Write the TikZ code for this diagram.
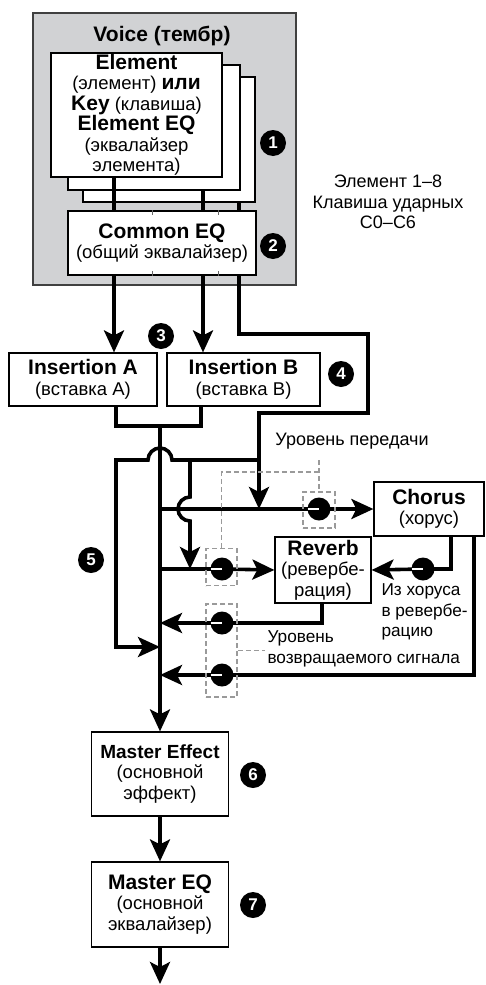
\documentclass[tikz,border=0pt]{standalone}
\usepackage{fontspec}
\setmainfont{Liberation Sans}
\usetikzlibrary{positioning,arrows.meta,calc}
\definecolor{voicegray}{HTML}{D1D2D4}
\definecolor{dashgray}{HTML}{9A9A9A}
\newcommand{\hd}[1]{{\fontsize{21}{20}\selectfont\bfseries #1}}
\tikzset{
  fxbox/.style = {draw, fill=white, line width=1.2pt, align=center,
    inner sep=0pt, font=\fontsize{18.5}{20.5}\selectfont},
  wire/.style = {line width=3.6pt},
  arr/.style = {-{Stealth[length=22pt,width=20pt,inset=5pt]}},
  lvl/.style = {draw=dashgray, line width=1.8pt, dash pattern=on 5pt off 3pt},
  lvlbox/.style = {lvl, inner sep=0pt},
  knob/.style = {circle, fill=black, minimum size=23pt, inner sep=0pt,
    path picture={\draw[white, line width=2pt] (path picture bounding box.west)
      -- (path picture bounding box.center);}},
  num/.style = {circle, fill=black, text=white, minimum size=26pt,
    inner sep=0pt, font=\fontsize{17}{17}\selectfont\bfseries},
  note/.style = {align=center, font=\fontsize{18}{20.5}\selectfont},
  sidenote/.style = {align=left, anchor=west, font=\fontsize{17.2}{20.5}\selectfont}
}

\begin{document}
\begin{tikzpicture}[x=1pt,y=-1pt]
\useasboundingbox (0,0) rectangle (486,985);

% voice block
\draw[line width=1.4pt, draw=black!75, fill=voicegray] (33,13) rectangle (296,285);
\node[font=\fontsize{21}{22}\selectfont\bfseries] (voice) at (162,36) {Voice (тембр)};
\node[fxbox, minimum width=172pt, minimum height=125pt] (elC) at (169,139.5) {};
\node[fxbox, minimum width=172pt, minimum height=125pt] (elB) at (154,127.5) {};
\node[fxbox, minimum width=171pt, minimum height=124pt] (elA) at (136.5,115)
  {\hd{Element}\\(элемент) \hd{или}\\\hd{Key} (клавиша)\\\hd{Element EQ}\\(эквалайзер\\элемента)};
\node[fxbox, minimum width=188pt, minimum height=64pt] (cEQ) at (162,243)
  {\hd{Common EQ}\\(общий эквалайзер)};
\node[note] (range) at (388,202) {Элемент 1–8\\Клавиша ударных\\C0–C6};

% insertions, system effects, master
\node[fxbox, minimum width=148pt, minimum height=53pt] (insA) at (83,379.5)
  {\hd{Insertion A}\\(вставка A)};
\node[fxbox, minimum width=153pt, minimum height=53pt] (insB) at (243.5,379.5)
  {\hd{Insertion B}\\(вставка B)};
\node[fxbox, minimum width=110pt, minimum height=54pt] (chorus) at (429,509)
  {\hd{Chorus}\\(хорус)};
\node[fxbox, minimum width=96pt, minimum height=66pt] (reverb) at (323,570)
  {\hd{Reverb}\\(ревербе-\\рация)};
\node[fxbox, minimum width=137pt, minimum height=84pt] (mfx) at (160,774)
  {{\fontsize{19}{20}\selectfont\bfseries Master Effect}\\(основной\\эффект)};
\node[fxbox, minimum width=137pt, minimum height=85pt] (meq) at (160,904.5)
  {\hd{Master EQ}\\(основной\\эквалайзер)};

% numbers
\node[num] (n1) at (273,143) {1};
\node[num] (n2) at (273,246) {2};
\node[num] (n3) at (161,336) {3};
\node[num] (n4) at (341,374) {4};
\node[num] (n5) at (91,560) {5};
\node[num] (n6) at (253,775) {6};
\node[num] (n7) at (253,905) {7};

\coordinate (xa) at (114,0);
\coordinate (xb) at (203,0);
\coordinate (xc) at (239,0);
\coordinate (mx) at (160,0);
\coordinate (xo1) at (116,0);
\coordinate (xo2) at (201,0);
\coordinate (xcr) at (451,0);
\coordinate (xrr) at (322,0);
\coordinate (xct) at (474,0);
\coordinate (bend1) at (368,334);
\coordinate (bend2) at (259,413);
\coordinate (mrg) at (160,426);
\coordinate (jS) at (259,460);
\coordinate (jR) at (190,460);
\coordinate (dl) at (116,460);
\coordinate (dry) at (160,647);
\coordinate (out) at (160,984);
\coordinate (kc) at (319,509);
\coordinate (kr) at (222,569);
\coordinate (kcr) at (423,569);
\coordinate (krr) at (222,623);
\coordinate (kct) at (222,675);

% common EQ dividers
\foreach \tx in {152,218}{
  \coordinate (t) at (\tx,0);
  \draw[line width=0.8pt, black!60] (t|-cEQ.north) -- ++(0,5);
  \draw[line width=0.8pt, black!60] (t|-cEQ.south) -- ++(0,-5);
}

% wires
\draw[wire] (xa|-elA.south) -- (xa|-cEQ.north);
\draw[wire] (xb|-elB.south) -- (xb|-cEQ.north);
\draw[wire] (xc|-elC.south) -- (xc|-cEQ.north);
\draw[wire,arr] (xa|-cEQ.south) -- (xa|-insA.north);
\draw[wire,arr] (xb|-cEQ.south) -- (xb|-insB.north);
\draw[wire] (xc|-cEQ.south) |- (bend1) |- (bend2) -- (jS);
\draw[wire] (xo1|-insA.south) |- (xo2|-mrg) -- (xo2|-insB.south);
\draw[wire,arr] (mrg) -- (mfx.north);
\draw[wire,arr] (mfx.south) -- (meq.north);
\draw[wire,arr] (meq.south) -- (out);

\draw[wire,arr] (jS) -- (jS|-kc);
\draw[wire,arr] (jS) -- ($(mx|-jS)+(12,0)$) arc[start angle=0, end angle=180, radius=12pt]
  -- (dl) |- (dry);
\draw[wire,arr] (jR) -- ($(jR|-kc)+(0,-12)$) arc[start angle=90, end angle=270, radius=12pt]
  -- (jR|-kr);

\draw[wire,arr] (mx|-kc) -- (kc) -- (chorus.west);
\draw[wire,arr] (mx|-kr) -- (kr) -- (reverb.west);
\draw[wire,arr] (xcr|-chorus.south) |- (kcr) -- (reverb.east);
\draw[wire,arr] (xrr|-reverb.south) |- (krr) -- (mx|-krr);
\draw[wire,arr] (xct|-chorus.south) |- (kct) -- (mx|-kct);

% level boxes
\node[lvlbox, minimum width=32pt, minimum height=36pt] (bc) at (319,510) {};
\node[lvlbox, minimum width=31pt, minimum height=37pt] (br) at (221.5,567) {};
\node[lvlbox, minimum width=31pt, minimum height=93pt] (bret) at (221.5,650.5) {};
\coordinate (lvtop) at (319,460);
\coordinate (lvmid) at (319,472);
\coordinate (rl) at (265,0);
\draw[lvl] (br.north) |- (lvmid);
\draw[lvl] (lvtop) -- (bc.north);
\draw[lvl] (bret.east) -- (rl|-bret.east);

% knobs
\node[knob] (knC) at (kc) {};
\node[knob] (knR) at (kr) {};
\node[knob] (knCR) at (kcr) {};
\node[knob] (knRR) at (krr) {};
\node[knob] (knCT) at (kct) {};

% labels
\node[note] (lvsend) at (352,441) {Уровень передачи};
\node[sidenote] (lvret) at (264,649) {Уровень\\возвращаемого сигнала};
\node[sidenote] (c2r) at (378,612) {Из хоруса\\в ревербе-\\рацию};
\end{tikzpicture}
\end{document}
